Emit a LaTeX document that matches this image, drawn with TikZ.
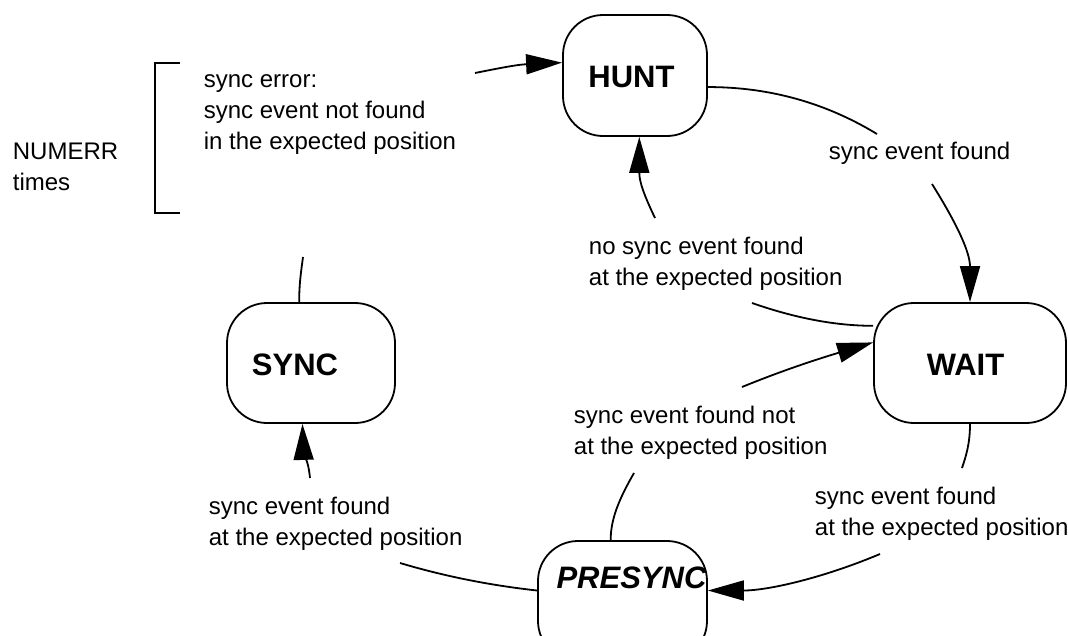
\documentclass[tikz,border=0pt]{standalone}
\usepackage{fontspec}
\setmainfont{Liberation Sans}
\usepackage{tikz}
\usetikzlibrary{arrows.meta}

\newcommand{\evtext}[1]{\begin{tabular}[t]{@{}l@{}}#1\end{tabular}}

\begin{document}
\begin{tikzpicture}[x=1pt, y=-1pt, line width=1.8pt,
    statebox/.style={draw, rounded corners=40pt, inner sep=0pt},
    statename/.style={font=\fontsize{31}{36}\selectfont\bfseries, inner sep=0pt, anchor=base},
    note/.style={font=\fontsize{24}{31}\selectfont, inner sep=0pt, anchor=base west},
    evarrow/.style={-{Triangle[length=36pt, width=20pt]}}]
    \useasboundingbox (0,0) rectangle (1068,635);

    % states
    \node[statebox, minimum width=144pt, minimum height=121pt] (hunt) at (635,75.5) {};
    \node[statebox, minimum width=192pt, minimum height=120pt] (wait) at (970,363) {};
    \node[statebox, minimum width=168pt, minimum height=120pt] (sync) at (311,363) {};
    \node[statebox, minimum width=169pt, minimum height=120pt] (presync) at (622.5,601) {};
    \node[statename] (hunttxt) at (631.5,87) {HUNT};
    \node[statename] (waittxt) at (965.5,375) {WAIT};
    \node[statename] (synctxt) at (295,375) {SYNC};
    \node[statename] (presynctxt) at (631.5,588.3) {\itshape PRESYNC};

    % loose ends of the transitions
    \coordinate (errin) at (475,73);
    \coordinate (errout) at (303,257);
    \coordinate (foundA) at (877,134);
    \coordinate (foundB) at (932,184);
    \coordinate (lostA) at (752,303);
    \coordinate (lostB) at (655,218);
    \coordinate (lateA) at (634,473);
    \coordinate (lateB) at (742,387);
    \coordinate (okA) at (962,468);
    \coordinate (okB) at (880,554);
    \coordinate (syncA) at (400,563);
    \coordinate (syncB) at (310,478);

    % transitions
    \draw (hunt.-9) .. controls +(62,0) and +(-51,-31) .. (foundA);
    \draw[evarrow] (foundB) .. controls +(25,40) and +(0,-50) .. (wait.north);
    \draw (wait.159) .. controls +(-38,0) and +(43,15) .. (lostA);
    \draw[evarrow] (lostB) .. controls +(-11,-23) and +(0,45) .. (hunt.-86);
    \draw (presync.101) .. controls +(0,-21) and +(-15,26) .. (lateA);
    \draw[evarrow] (lateB) .. controls +(44,-18) and +(-50,15) .. (wait.168);
    \draw (wait.south) .. controls +(0,20) and +(4,-12) .. (okA);
    \draw[evarrow] (okB) .. controls +(-57,24) and +(60,0) .. (presync.7);
    \draw (presync.173) .. controls +(-45,-5) and +(47,14) .. (syncA);
    \draw[evarrow] (syncB) .. controls +(-2,-20) and +(1,30) .. (sync.-98);
    \draw (sync.101) .. controls +(0,-18) and +(-2,15) .. (errout);
    \draw[evarrow] (errin) .. controls +(25,-5) and +(-45,2) .. (hunt.170);

    % bracket
    \draw (180,62.7) -- (155,62.7) -- (155,212.7) -- (180,212.7);

    % labels
    \node[note] (errlbl) at (203,87) {\evtext{sync error:\\ sync event not found\\ in the expected position}};
    \node[note] (numerr) at (12,159) {\evtext{NUMERR\\ times}};
    \node[note] (foundlbl) at (828,159) {sync event found};
    \node[note] (lostlbl) at (588,254) {\evtext{no sync event found\\ at the expected position}};
    \node[note] (latelbl) at (573,423) {\evtext{sync event found not\\ at the expected position}};
    \node[note] (oklbl) at (814,504) {\evtext{sync event found\\ at the expected position}};
    \node[note] (synclbl) at (208,514.5) {\evtext{sync event found\\ at the expected position}};
\end{tikzpicture}
\end{document}
